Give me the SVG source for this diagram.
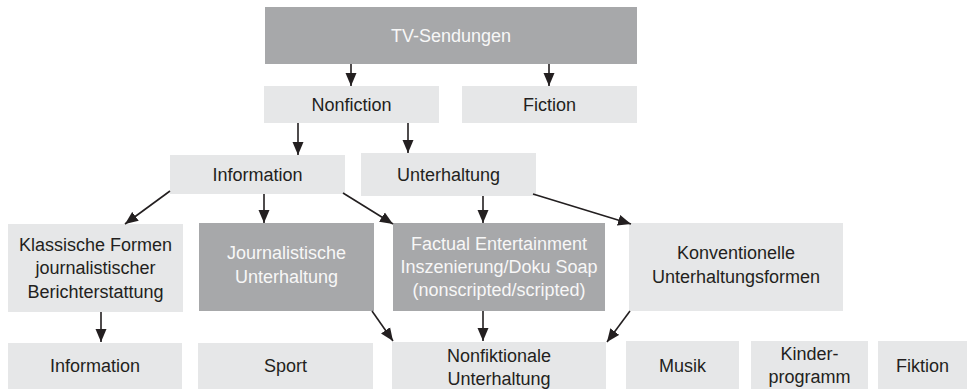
<svg xmlns="http://www.w3.org/2000/svg" width="968" height="389" viewBox="0 0 968 389">
<defs>
<marker id="ah" markerUnits="userSpaceOnUse" markerWidth="13" markerHeight="12" viewBox="0 0 13 12" refX="13" refY="6" orient="auto">
<path d="M0,0.5 L13,6 L0,11.5 Z" fill="#231f20"/>
</marker>
<style>
.lt{fill:#e6e7e8}
.dk{fill:#a7a8aa}
text{font-family:"Liberation Sans",Arial,sans-serif;font-size:18px;text-anchor:middle;dominant-baseline:central}
.t{fill:#231f20}
.w{fill:#f7f7f7}
.c{stroke:#231f20;stroke-width:1.6;fill:none;marker-end:url(#ah)}
</style>
</defs>
<rect width="968" height="389" fill="#ffffff"/>
<g id="tv"><rect class="dk" x="265" y="7" width="372" height="57"/><text class="w" x="451" y="36">TV-Sendungen</text></g>
<g id="nonfiction"><rect class="lt" x="264" y="86" width="175" height="37"/><text class="t" x="351.5" y="105">Nonfiction</text></g>
<g id="fiction"><rect class="lt" x="462" y="86" width="175" height="37"/><text class="t" x="549.5" y="105">Fiction</text></g>
<g id="information"><rect class="lt" x="170" y="155" width="175" height="39"/><text class="t" x="257.5" y="174.5">Information</text></g>
<g id="unterhaltung"><rect class="lt" x="361" y="153" width="175" height="43"/><text class="t" x="448.5" y="174.5">Unterhaltung</text></g>
<g id="klassische"><rect class="lt" x="8" y="224" width="175" height="88"/><text class="t" x="95.5" y="244.5">Klassische Formen</text><text class="t" x="95.5" y="268">journalistischer</text><text class="t" x="95.5" y="291.5">Berichterstattung</text></g>
<g id="journalistische"><rect class="dk" x="199" y="223" width="175" height="88"/><text class="w" x="286.5" y="253">Journalistische</text><text class="w" x="286.5" y="277">Unterhaltung</text></g>
<g id="factual"><rect class="dk" x="393" y="223" width="212" height="88"/><text class="w" x="499" y="243.5">Factual Entertainment</text><text class="w" x="499" y="266.5">Inszenierung/Doku Soap</text><text class="w" x="499" y="289.5">(nonscripted/scripted)</text></g>
<g id="konventionelle"><rect class="lt" x="629" y="223" width="214" height="88"/><text class="t" x="736" y="253">Konventionelle</text><text class="t" x="736" y="277">Unterhaltungsformen</text></g>
<g id="information2"><rect class="lt" x="8" y="343" width="174" height="46"/><text class="t" x="95" y="366">Information</text></g>
<g id="sport"><rect class="lt" x="198" y="343" width="175" height="46"/><text class="t" x="285.5" y="366">Sport</text></g>
<g id="nonfiktionale"><rect class="lt" x="392" y="342" width="214" height="47"/><text class="t" x="499" y="355.5">Nonfiktionale</text><text class="t" x="499" y="378.5">Unterhaltung</text></g>
<g id="musik"><rect class="lt" x="626" y="341" width="113" height="48"/><text class="t" x="682.5" y="366">Musik</text></g>
<g id="kinder"><rect class="lt" x="751" y="341" width="117" height="48"/><text class="t" x="809.5" y="354">Kinder-</text><text class="t" x="809.5" y="377">programm</text></g>
<g id="fiktion"><rect class="lt" x="878" y="341" width="89" height="48"/><text class="t" x="922.5" y="366">Fiktion</text></g>
<g id="connectors">
<line class="c" x1="351" y1="64" x2="351" y2="86"/>
<line class="c" x1="549" y1="64" x2="549" y2="86"/>
<line class="c" x1="298" y1="123" x2="298" y2="155"/>
<line class="c" x1="408" y1="123" x2="408" y2="153"/>
<line class="c" x1="170" y1="191" x2="125" y2="224"/>
<line class="c" x1="264" y1="194" x2="264" y2="223"/>
<line class="c" x1="343" y1="193" x2="393" y2="224"/>
<line class="c" x1="483" y1="196" x2="483" y2="223"/>
<line class="c" x1="533" y1="194" x2="631" y2="224"/>
<line class="c" x1="101" y1="312" x2="101" y2="342"/>
<line class="c" x1="372" y1="311" x2="393" y2="341"/>
<line class="c" x1="483" y1="311" x2="483" y2="341"/>
<line class="c" x1="630" y1="311" x2="607" y2="342"/>
</g>
</svg>
